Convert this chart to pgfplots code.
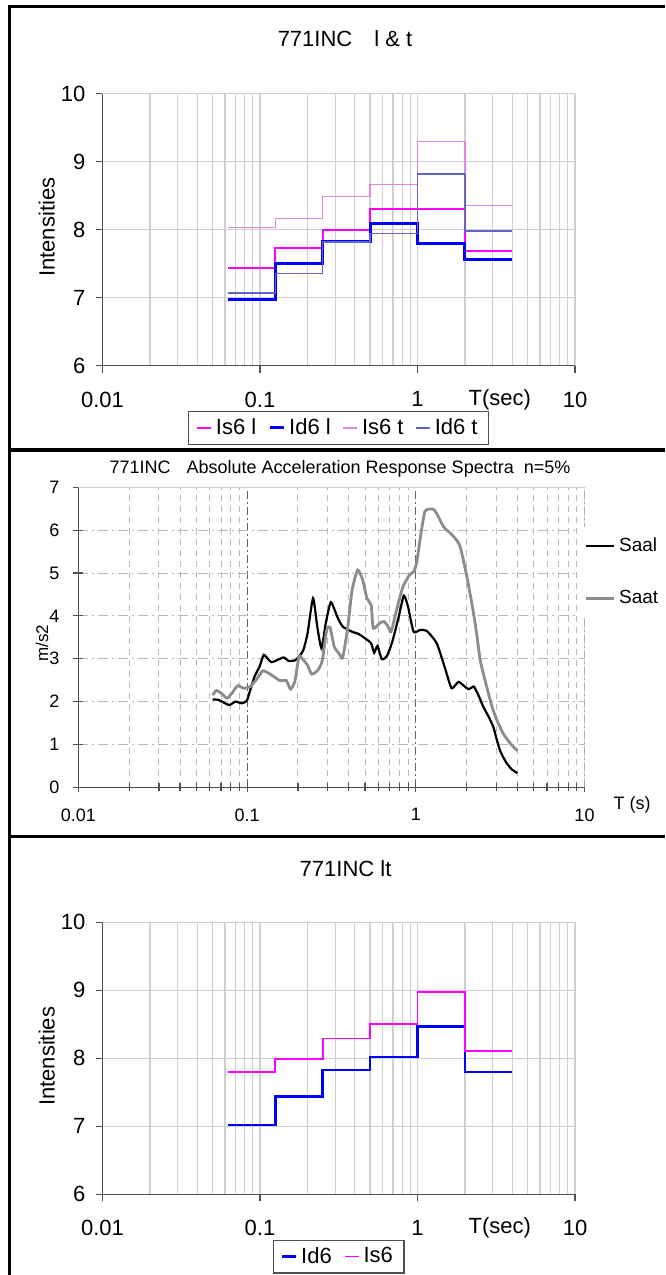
\documentclass[border=0pt]{standalone}
\usepackage{fontspec}
\setmainfont{Liberation Sans}
\usepackage{pgfplots}
\pgfplotsset{compat=1.18}
\definecolor{isl}{HTML}{FF00FF}
\definecolor{ist}{HTML}{DD8ADD}
\definecolor{idl}{HTML}{0000FF}
\definecolor{idt}{HTML}{6464C8}
\definecolor{saat}{HTML}{8C8C8C}
\definecolor{gridc}{HTML}{D0D0D0}
\definecolor{axc}{HTML}{505050}
\newcommand{\fA}{\fontsize{11}{13}\selectfont}
\newcommand{\fB}{\fontsize{9}{11}\selectfont}
\begin{document}
\begin{tikzpicture}
\useasboundingbox (0,0) rectangle (332.5pt,637.5pt);
% frame
\draw[line width=1.6pt] (4.6pt,0pt) -- (4.6pt,634.2pt) -- (332.5pt,634.2pt);
\draw[line width=1.6pt] (4.6pt,412.5pt) -- (332.5pt,412.5pt);
\draw[line width=1.6pt] (4.6pt,219.2pt) -- (332.5pt,219.2pt);
% titles
\node[font=\fA] at (172.5pt,618pt) {771INC\hspace{11pt}l \& t};
\node[font=\fontsize{9}{11}\selectfont] at (170pt,403pt) {771INC\hspace{8pt}Absolute Acceleration Response Spectra\hspace{5pt}n=5\%};
\node[font=\fA] at (172.8pt,203pt) {771INC lt};

% ---------- panel 1 ----------
\begin{axis}[at={(51.25pt,454.65pt)}, anchor=south west,
    scale only axis, width=236.25pt, height=136pt,
    xmode=log, xmin=0.01, xmax=10, ymin=6, ymax=10,
    xtick={0.01,0.1,1,10}, xticklabels={0.01,0.1,1,10},
    minor xtick={0.02,0.03,0.04,0.05,0.06,0.07,0.08,0.09,0.2,0.3,0.4,0.5,0.6,0.7,0.8,0.9,2,3,4,5,6,7,8,9},
    ytick={6,7,8,9,10}, yticklabels={6,7,8,9,10},
    grid=both,
    major grid style={draw=gridc, line width=0.6pt},
    minor grid style={draw=gridc, line width=0.6pt},
    axis lines*=left, axis line style={draw=axc, line width=0.6pt},
    tick align=outside, major tick length=3.5pt, minor tick length=0pt,
    tick style={draw=axc, line width=0.6pt},
    ticklabel style={font=\fA},
    xticklabel style={yshift=-6pt},
    yticklabel style={xshift=-1.5pt},
    label style={font=\fA},
    xlabel={T(sec)},
    xlabel style={at={(axis description cs:0.841,-0.126)}, anchor=center},
    ylabel={Intensities},
    ylabel style={at={(axis description cs:-0.118,0.509)}, anchor=center},
    legend style={at={(0.5,0)}, anchor=north, yshift=-22.6pt, draw=axc, line width=0.6pt,
      inner xsep=3.5pt, inner ysep=1.5pt, font=\fA,
      /tikz/every even column/.append style={column sep=4pt}},
    legend columns=4,
    legend image code/.code={\draw[#1] (0pt,0pt) -- (7pt,0pt);},
]
\addplot[const plot, isl, line width=1.0pt] coordinates {(0.0625,7.44) (0.125,7.73) (0.25,7.99) (0.5,8.30) (1,8.30) (2,7.69) (4,7.69)};
\addlegendentry{Is6 l}
\addplot[const plot, idl, line width=1.5pt] coordinates {(0.0625,6.97) (0.125,7.51) (0.25,7.82) (0.5,8.09) (1,7.80) (2,7.56) (4,7.56)};
\addlegendentry{Id6 l}
\addplot[const plot, ist, line width=0.6pt] coordinates {(0.0625,8.03) (0.125,8.16) (0.25,8.49) (0.5,8.66) (1,9.30) (2,8.36) (4,8.36)};
\addlegendentry{Is6 t}
\addplot[const plot, idt, line width=0.6pt] coordinates {(0.0625,7.07) (0.125,7.35) (0.25,7.82) (0.5,7.94) (1,8.82) (2,7.98) (4,7.98)};
\addlegendentry{Id6 t}
\end{axis}

% ---------- panel 2 ----------
\begin{axis}[at={(39.25pt,243.85pt)}, anchor=south west,
  scale only axis, width=253pt, height=150pt,
  xmode=log, xmin=0.01, xmax=10, ymin=0, ymax=7,
  xtick={0.01,0.1,1,10}, xticklabels={0.01,0.1,1,10},
  minor xtick={0.02,0.03,0.04,0.05,0.06,0.07,0.08,0.09,0.2,0.3,0.4,0.5,0.6,0.7,0.8,0.9,2,3,4,5,6,7,8,9},
  ytick={0,1,2,3,4,5,6,7}, yticklabels={0,1,2,3,4,5,6,7},
  xmajorgrids, xminorgrids, ymajorgrids,
  major x grid style={draw=gray!80!black, line width=0.5pt, dash pattern=on 4pt off 1.5pt on 1pt off 1.5pt},
  minor x grid style={draw=gray!55, line width=0.5pt, dash pattern=on 3pt off 2.5pt},
  y grid style={draw=gray!55, line width=0.5pt, dash pattern=on 5pt off 2pt on 1pt off 2pt},
  axis lines*=left, axis line style={draw=axc, line width=0.6pt},
  tick align=center, major tick length=5pt, minor tick length=4pt,
  tick style={draw=axc, line width=0.6pt},
  ticklabel style={font=\fB},
  xticklabel style={yshift=-4.6pt},
  yticklabel style={xshift=-3.5pt},
  label style={font=\fB},
  xlabel={T (s)},
  xlabel style={at={(axis description cs:1.094,-0.059)}, anchor=center},
  ylabel={m/s2},
  ylabel style={at={(axis description cs:-0.072,0.48)}, anchor=center, font=\fontsize{8.5}{10}\selectfont},
  legend style={at={(0.987,0.568)}, anchor=south west, draw=none, fill=white,
    font=\fontsize{9.5}{11}\selectfont, inner sep=3pt, row sep=14pt},
  legend cell align=left,
  legend image code/.code={\draw[#1] (0pt,0pt) -- (14pt,0pt);},
]
\draw[gridc, line width=0.6pt] (rel axis cs:0,1) -- (rel axis cs:1,1) -- (rel axis cs:1,0);
\addplot[black, line width=1.1pt, smooth, tension=0.35] coordinates {
(0.0625,2.05) (0.0676,2.04) (0.0781,1.92) (0.0852,2.00) (0.0929,1.96) (0.0996,2.02)
(0.1043,2.27) (0.1105,2.58) (0.1186,2.82) (0.1256,3.09) (0.1394,2.92) (0.1639,3.03)
(0.1757,2.95) (0.1916,2.96) (0.2030,3.05) (0.2152,3.20) (0.2280,3.59) (0.2458,4.41)
(0.2604,3.75) (0.2760,3.24) (0.2925,3.83) (0.3135,4.32) (0.3420,3.98) (0.3688,3.75)
(0.4188,3.63) (0.4568,3.58) (0.4982,3.48) (0.5434,3.36) (0.5659,3.14) (0.5928,3.30)
(0.6281,2.99) (0.6733,3.06) (0.7259,3.40) (0.7917,3.98) (0.8488,4.47) (0.8993,4.21)
(0.9696,3.63) (1.0576,3.67) (1.16,3.65) (1.33,3.36) (1.50,2.74) (1.63,2.31)
(1.79,2.46) (1.95,2.35) (2.05,2.29) (2.15,2.33) (2.21,2.35) (2.35,2.15) (2.51,1.88)
(2.70,1.65) (2.88,1.41) (3.00,1.15) (3.15,0.87) (3.30,0.70) (3.46,0.56) (3.70,0.42) (4.00,0.33)};
\addlegendentry{Saal}
\addplot[saat, line width=1.4pt, smooth, tension=0.35] coordinates {
(0.0625,2.15) (0.0657,2.26) (0.0704,2.19) (0.0759,2.08) (0.0818,2.21) (0.0877,2.37)
(0.0956,2.31) (0.1043,2.35) (0.1138,2.52) (0.1242,2.72) (0.1394,2.62) (0.1565,2.49)
(0.1707,2.49) (0.1809,2.29) (0.1916,2.47) (0.2030,3.05) (0.2152,2.97) (0.2280,2.85)
(0.2416,2.64) (0.2635,2.74) (0.2793,2.97) (0.2959,3.67) (0.3099,3.73) (0.3285,3.28)
(0.3520,3.11) (0.3688,3.03) (0.3953,3.75) (0.4188,4.60) (0.4516,5.07) (0.4840,4.84)
(0.5129,4.41) (0.5434,4.25) (0.5594,3.71) (0.6101,3.83) (0.6466,3.87) (0.6850,3.75)
(0.7133,3.63) (0.7691,4.14) (0.8388,4.68) (0.9152,4.95) (0.9696,5.03) (1.01,5.23)
(1.08,6.00) (1.13,6.43) (1.19,6.49) (1.27,6.49) (1.33,6.39) (1.46,6.08) (1.60,5.93)
(1.71,5.81) (1.83,5.62) (2.00,4.95) (2.19,4.10) (2.30,3.55) (2.40,3.00) (2.51,2.66)
(2.63,2.35) (2.82,1.90) (3.00,1.60) (3.16,1.40) (3.30,1.25) (3.62,1.03) (4.00,0.85)};
\addlegendentry{Saat}
\end{axis}

% ---------- panel 3 ----------
\begin{axis}[at={(51.25pt,40.35pt)}, anchor=south west,
    scale only axis, width=236.25pt, height=136pt,
    xmode=log, xmin=0.01, xmax=10, ymin=6, ymax=10,
    xtick={0.01,0.1,1,10}, xticklabels={0.01,0.1,1,10},
    minor xtick={0.02,0.03,0.04,0.05,0.06,0.07,0.08,0.09,0.2,0.3,0.4,0.5,0.6,0.7,0.8,0.9,2,3,4,5,6,7,8,9},
    ytick={6,7,8,9,10}, yticklabels={6,7,8,9,10},
    grid=both,
    major grid style={draw=gridc, line width=0.6pt},
    minor grid style={draw=gridc, line width=0.6pt},
    axis lines*=left, axis line style={draw=axc, line width=0.6pt},
    tick align=outside, major tick length=3.5pt, minor tick length=0pt,
    tick style={draw=axc, line width=0.6pt},
    ticklabel style={font=\fA},
    xticklabel style={yshift=-6pt},
    yticklabel style={xshift=-1.5pt},
    label style={font=\fA},
    xlabel={T(sec)},
    xlabel style={at={(axis description cs:0.841,-0.125)}, anchor=center},
    ylabel={Intensities},
    ylabel style={at={(axis description cs:-0.118,0.507)}, anchor=center},
    legend style={at={(0.5,0)}, anchor=north, yshift=-22.6pt, draw=axc, line width=0.6pt,
      inner xsep=3.5pt, inner ysep=1.5pt, font=\fA,
      /tikz/every even column/.append style={column sep=4pt}},
    legend columns=2,
    legend image code/.code={\draw[#1] (0pt,0pt) -- (7pt,0pt);},
]
\addplot[const plot, idl, line width=1.3pt] coordinates {(0.0625,7.02) (0.125,7.44) (0.25,7.83) (0.5,8.02) (1,8.47) (2,7.80) (4,7.80)};
\addlegendentry{Id6}
\addplot[const plot, isl, line width=0.9pt] coordinates {(0.0625,7.80) (0.125,7.99) (0.25,8.29) (0.5,8.51) (1,8.97) (2,8.11) (4,8.11)};
\addlegendentry{Is6}
\end{axis}
\end{tikzpicture}
\end{document}
